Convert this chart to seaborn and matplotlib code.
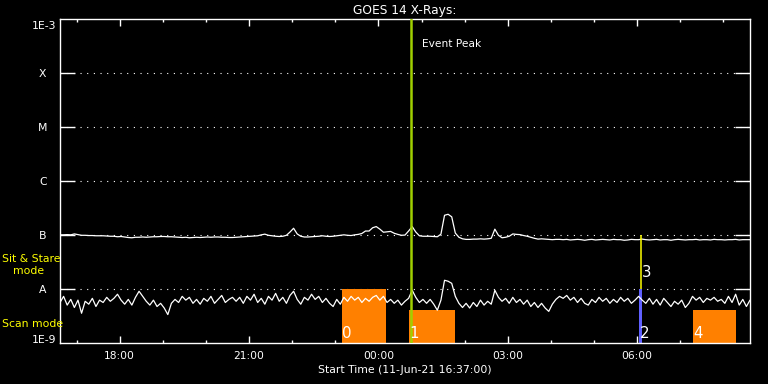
import numpy as np
import pandas as pd
import matplotlib
matplotlib.use("Agg")
import matplotlib.pyplot as plt
from matplotlib.ticker import FixedLocator, MultipleLocator, NullLocator
import seaborn as sns

# ---------------- data ----------------
START_HOUR = 16 + 37 / 60          # 11-Jun-21 16:37:00
SPAN_HOURS = 16
STEP_MIN = 5                        # sampling step of the typed series

# GOES 14 long channel (1-8 A), units of 1e-8 W/m^2
long_flux = [
    10.2, 10.2, 10.3, 10.2, 10.6, 10.3, 10.0, 10.0, 9.9, 9.9,
    9.8, 9.8, 9.8, 9.7, 9.6, 9.6, 9.4, 9.5, 9.3, 9.1,
    9.0, 9.2, 9.2, 9.3, 9.2, 9.3, 9.4, 9.4, 9.5, 9.5,
    9.4, 9.4, 9.3, 9.2, 9.1, 9.2, 9.0, 9.1, 9.2, 9.1,
    9.2, 9.3, 9.2, 9.3, 9.3, 9.2, 9.2, 9.1, 9.1, 9.2,
    9.3, 9.4, 9.5, 9.6, 9.7, 9.8, 10.2, 10.5, 10.0, 9.8,
    9.6, 9.5, 9.6, 10.0, 11.5, 13.5, 10.6, 9.6, 9.3, 9.3,
    9.4, 9.5, 9.6, 9.8, 9.6, 9.5, 9.6, 9.8, 10.0, 10.2,
    10.0, 9.9, 10.2, 10.4, 10.8, 12.0, 12.0, 13.8, 14.5, 13.0,
    11.4, 11.6, 11.8, 10.9, 10.4, 10.0, 10.1, 12.0, 14.5, 11.5,
    9.8, 9.6, 9.6, 9.6, 9.5, 9.4, 10.5, 23.5, 24.5, 22.0,
    11.0, 9.2, 8.6, 8.4, 8.4, 8.5, 8.5, 8.6, 8.5, 8.6,
    8.8, 13.0, 10.0, 9.0, 9.2, 9.6, 10.6, 10.4, 10.3, 9.9,
    9.6, 9.2, 8.8, 8.5, 8.6, 8.5, 8.4, 8.3, 8.4, 8.4,
    8.3, 8.4, 8.2, 8.3, 8.4, 8.3, 8.1, 8.3, 8.4, 8.2,
    8.3, 8.4, 8.3, 8.2, 8.4, 8.3, 8.3, 8.1, 8.2, 8.4,
    8.3, 8.3, 8.5, 8.3, 8.2, 8.3, 8.4, 8.2, 8.3, 8.3,
    8.1, 8.3, 8.4, 8.3, 8.2, 8.3, 8.3, 8.4, 8.2, 8.3,
    8.3, 8.2, 8.4, 8.3, 8.3, 8.2, 8.3, 8.3, 8.4, 8.2,
    8.3, 8.3, 8.3,
]

# GOES 14 short channel (0.5-4 A), units of 1e-9 W/m^2
short_flux = [
    5.7, 7.4, 5.1, 6.5, 4.6, 6.3, 3.6, 6.0, 5.3, 6.8,
    4.8, 6.3, 5.7, 7.1, 6.0, 6.8, 8.1, 6.3, 5.3, 6.5,
    5.1, 7.1, 9.2, 7.4, 6.0, 5.1, 6.3, 4.8, 5.5, 4.5,
    3.4, 5.5, 6.5, 5.7, 7.4, 6.3, 7.1, 5.5, 6.5, 5.3,
    6.8, 6.0, 7.4, 5.5, 6.5, 7.7, 5.7, 6.5, 7.1, 6.0,
    7.1, 5.5, 7.4, 6.3, 8.1, 5.7, 6.8, 5.3, 7.4, 6.3,
    8.4, 6.0, 7.1, 5.5, 7.7, 9.2, 6.5, 5.3, 7.1, 6.3,
    8.1, 6.5, 7.4, 5.7, 6.8, 5.5, 4.8, 6.5, 5.3, 7.1,
    6.0, 7.4, 6.3, 7.1, 5.7, 6.8, 6.0, 7.1, 7.7, 6.3,
    7.4, 5.7, 6.5, 5.5, 6.3, 5.1, 6.0, 6.8, 9.6, 7.1,
    5.7, 6.5, 5.5, 6.5, 5.3, 4.1, 6.3, 14.7, 14.1, 12.9,
    7.4, 5.5, 4.6, 5.5, 4.5, 5.7, 4.8, 6.3, 5.1, 6.0,
    5.3, 9.6, 7.1, 6.0, 6.8, 5.5, 7.1, 5.7, 6.5, 5.3,
    6.3, 4.8, 5.7, 4.6, 5.5, 4.5, 3.9, 5.3, 6.5, 7.4,
    6.8, 7.7, 6.3, 7.1, 5.7, 6.8, 5.5, 5.1, 6.5, 5.7,
    7.1, 6.0, 6.8, 5.5, 6.5, 5.7, 7.1, 6.0, 6.8, 5.5,
    6.3, 7.4, 6.3, 5.5, 6.8, 5.3, 6.5, 5.1, 6.8, 5.7,
    4.8, 6.0, 5.3, 6.3, 4.6, 5.5, 7.4, 6.3, 7.1, 5.7,
    6.8, 6.3, 7.1, 6.0, 6.5, 5.5, 7.4, 5.7, 8.1, 5.1,
    6.5, 4.8, 6.3,
]

# GOES class levels
class_levels = [1e-8, 1e-7, 1e-6, 1e-5, 1e-4]
class_names = ["A", "B", "C", "M", "X"]
y_min, y_max = 1e-9, 1e-3

# time ticks (hours after 11-Jun 00:00)
major_hours = [18, 21, 24, 27, 30]
major_labels = ["18:00", "21:00", "00:00", "03:00", "06:00"]

event_peak_hour = 24 + 46 / 60

# observing-mode intervals (orange boxes)
box_labels = ["0", "1", "4"]
box_start = [23 + 9 / 60, 24 + 43 / 60, 31 + 17 / 60]
box_end = [24 + 11 / 60, 25 + 47 / 60, 32 + 17 / 60]
box_top = [1e-8, 4.1e-9, 4.1e-9]

# marker 2 (blue bar) and marker 3 (yellow line)
mark2_start, mark2_end, mark2_top = 30 + 3 / 60, 30 + 7 / 60, 1e-8
mark3_hour, mark3_low, mark3_high = 30 + 6 / 60, 1e-8, 1e-7

# ---------------- style ----------------
sns.set_theme(style="ticks")
plt.rcParams["font.family"] = ["DejaVu Sans"]
WHITE = "white"
ORANGE = "#ff8000"
YELLOW = "#ffff00"

fig = plt.figure(figsize=(7.68, 3.84), dpi=100, facecolor="black")
ax = fig.add_axes([60 / 768, 1 - 343.3 / 384, 690 / 768, 324 / 384])
ax.set_facecolor("black")

t_long = START_HOUR + np.arange(len(long_flux)) * STEP_MIN / 60
t_short = START_HOUR + np.arange(len(short_flux)) * STEP_MIN / 60
df_long = pd.DataFrame({"t": t_long, "flux": np.array(long_flux) * 1e-8})
df_short = pd.DataFrame({"t": t_short, "flux": np.array(short_flux) * 1e-9})

# orange boxes
for s, e, top in zip(box_start, box_end, box_top):
    ax.fill_between([s, e], [y_min, y_min], [top, top], color=ORANGE, lw=0, zorder=1)
# blue bar (2)
ax.fill_between([mark2_start, mark2_end], [y_min, y_min], [mark2_top, mark2_top],
                color="#6060ff", lw=0, zorder=1)

sns.lineplot(data=df_long, x="t", y="flux", color=WHITE, lw=0.9, ax=ax,
             estimator=None, zorder=3)
sns.lineplot(data=df_short, x="t", y="flux", color=WHITE, lw=0.9, ax=ax,
             estimator=None, zorder=3)

# yellow line (3)
ax.vlines(mark3_hour, mark3_low, mark3_high, color=YELLOW, lw=1.1, zorder=4)
# event peak
ax.axvline(event_peak_hour, color="#a0d000", lw=1.8, zorder=4)
ax.annotate("Event Peak", xy=(event_peak_hour, 1), xycoords=("data", "axes fraction"),
            xytext=(7.5, -17.5), textcoords="offset points", ha="left", va="center",
            color=WHITE, fontsize=7.7)

# number labels
num_labels = box_labels[:2] + ["2"] + box_labels[2:]
num_x = box_start[:2] + [mark2_start] + box_start[2:]
for lab, x in zip(num_labels, num_x):
    ax.annotate(lab, xy=(x, y_min), xytext=(0.3, 3.6), textcoords="offset points",
                ha="left", va="baseline", color=WHITE, fontsize=10.8, zorder=5)
ax.annotate("3", xy=(mark3_hour, mark3_low), xytext=(0.3, 8.6), textcoords="offset points",
            ha="left", va="baseline", color=WHITE, fontsize=10.8, zorder=5)

# axes
ax.set_yscale("log")
ax.set_ylim(y_min, y_max)
ax.set_xlim(START_HOUR, START_HOUR + SPAN_HOURS)
ax.yaxis.set_major_locator(FixedLocator(class_levels))
ax.set_yticklabels(class_names)
ax.yaxis.set_minor_locator(NullLocator())
ax.xaxis.set_major_locator(FixedLocator(major_hours))
ax.set_xticklabels(major_labels)
ax.xaxis.set_minor_locator(MultipleLocator(1))

ax.tick_params(axis="y", which="major", direction="in", length=10.8, width=1.0,
               color=WHITE, left=True, right=True, labelcolor=WHITE,
               labelsize=7.8, pad=12.3)
for lbl in ax.get_yticklabels():
    lbl.set_horizontalalignment("center")
ax.tick_params(axis="x", which="major", direction="in", length=5, width=1.0,
               color=WHITE, top=True, bottom=True, labelcolor=WHITE,
               labelsize=7.7, pad=5.2)
ax.tick_params(axis="x", which="minor", direction="in", length=2.5, width=1.0,
               color=WHITE, top=True, bottom=True)

ax.yaxis.grid(True, which="major", color=WHITE, linestyle=(0, (1, 5)), lw=0.8)
ax.xaxis.grid(False)
for sp in ax.spines.values():
    sp.set_color(WHITE)
    sp.set_linewidth(1.0)
    sp.set_visible(True)

ax.set_xlabel("Start Time (11-Jun-21 16:37:00)", color=WHITE, fontsize=7.8, labelpad=3)
ax.set_ylabel("")
ax.set_title("GOES 14 X-Rays:", color=WHITE, fontsize=8.8, pad=4)

ax.annotate("1E-3", xy=(0, y_max), xycoords=("axes fraction", "data"),
            xytext=(-2.5, -1), textcoords="offset points", ha="right", va="top",
            color=WHITE, fontsize=7.8)
ax.annotate("1E-9", xy=(0, y_min), xycoords=("axes fraction", "data"),
            xytext=(-2.5, 0.5), textcoords="offset points", ha="right", va="baseline",
            color=WHITE, fontsize=7.8)

fig.text(2 / 768, 1 - 259 / 384, "Sit & Stare", color=YELLOW, fontsize=7.8,
         ha="left", va="center", zorder=10)
fig.text(13 / 768, 1 - 271 / 384, "mode", color=YELLOW, fontsize=7.8,
         ha="left", va="center", zorder=10)
fig.text(2 / 768, 1 - 324 / 384, "Scan mode", color=YELLOW, fontsize=7.8,
         ha="left", va="center", zorder=10)

fig.savefig("out.png", dpi=100, facecolor="black")
